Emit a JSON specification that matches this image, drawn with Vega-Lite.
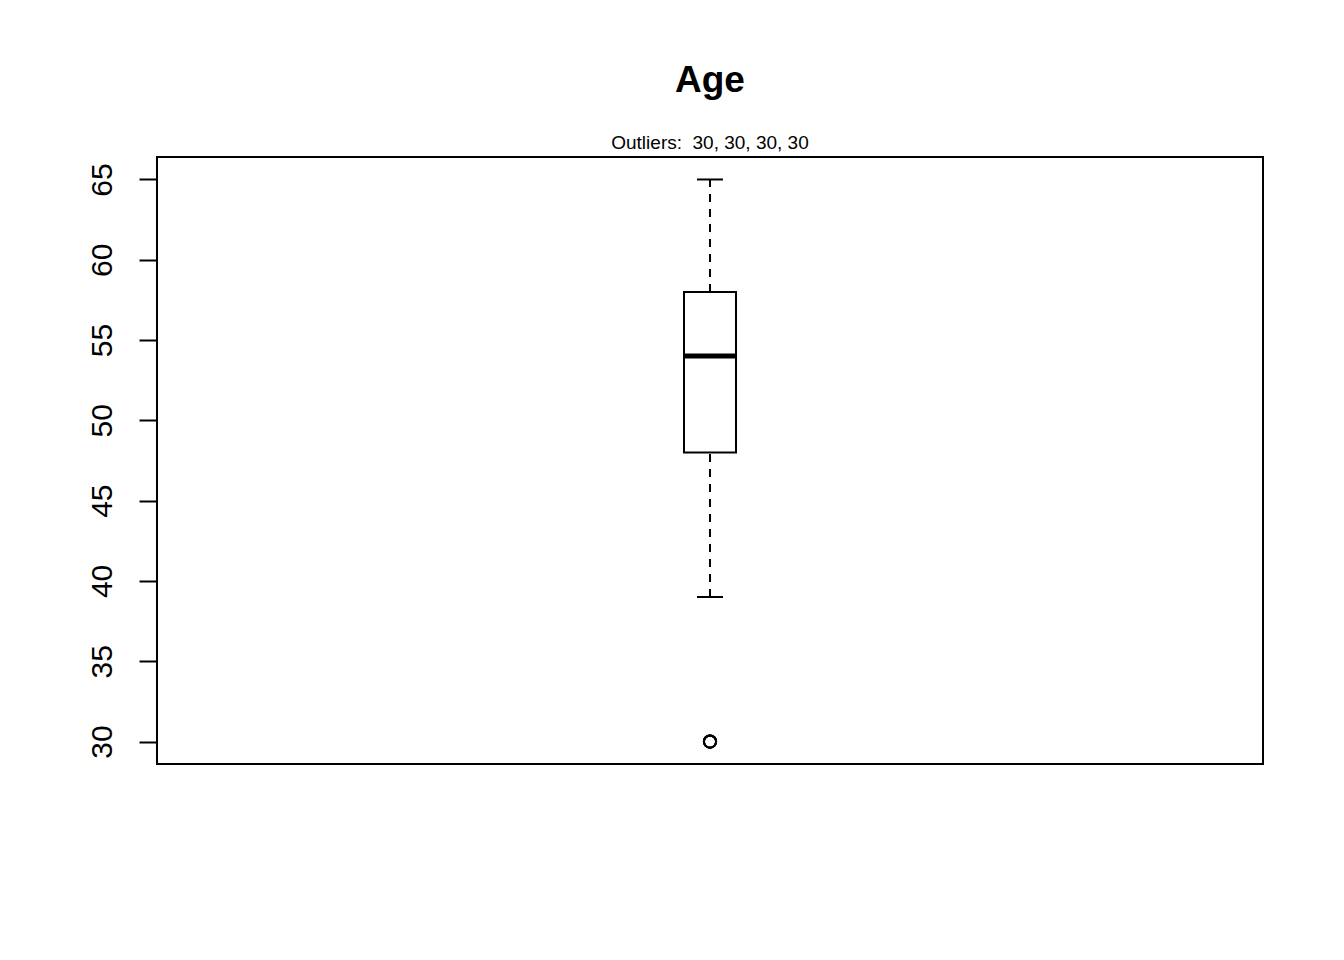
{
  "$schema": "https://vega.github.io/schema/vega-lite/v6.json",
  "width": 1106,
  "height": 607,
  "autosize": {"type": "none"},
  "padding": {"left": 157, "top": 157, "right": 81, "bottom": 196},
  "background": "white",
  "config": {
    "font": "Liberation Sans",
    "view": {"stroke": "black", "strokeWidth": 2, "fill": "white"}
  },
  "title": {
    "text": "Age",
    "subtitle": "Outliers:\u00a0 30, 30, 30, 30",
    "fontSize": 37,
    "fontWeight": "bold",
    "color": "black",
    "subtitleFontSize": 19,
    "subtitleColor": "black",
    "subtitlePadding": 34,
    "anchor": "middle",
    "offset": 3,
    "font": "Liberation Sans",
    "subtitleFont": "Liberation Sans"
  },
  "datasets": {
    "stats": [
      {"group": "Age", "lower": 39, "q1": 48, "median": 54, "q3": 58, "upper": 65}
    ],
    "outliers": [
      {"group": "Age", "value": 30},
      {"group": "Age", "value": 30},
      {"group": "Age", "value": 30},
      {"group": "Age", "value": 30}
    ]
  },
  "encoding": {
    "x": {
      "field": "group",
      "type": "nominal",
      "scale": {"type": "point", "padding": 0.5},
      "axis": null
    }
  },
  "layer": [
    {
      "data": {"name": "stats"},
      "mark": {"type": "rule", "color": "black", "strokeWidth": 2, "strokeDash": [8, 7]},
      "encoding": {
        "y": {
          "field": "lower",
          "type": "quantitative",
          "scale": {"domain": [28.6, 66.4], "nice": false, "zero": false},
          "axis": {
            "title": null,
            "values": [30, 35, 40, 45, 50, 55, 60, 65],
            "grid": false,
            "domain": false,
            "labelAngle": -90,
            "labelAlign": "center",
            "labelBaseline": "alphabetic",
            "labelFontSize": 30,
            "labelColor": "black",
            "labelFont": "Liberation Sans",
            "labelPadding": 28,
            "tickColor": "black",
            "tickWidth": 2,
            "tickSize": 18
          }
        },
        "y2": {"field": "q1"}
      }
    },
    {
      "data": {"name": "stats"},
      "mark": {"type": "rule", "color": "black", "strokeWidth": 2, "strokeDash": [8, 7]},
      "encoding": {
        "y": {"field": "q3", "type": "quantitative"},
        "y2": {"field": "upper"}
      }
    },
    {
      "data": {"name": "stats"},
      "mark": {"type": "tick", "color": "black", "size": 26, "thickness": 2, "opacity": 1},
      "encoding": {"y": {"field": "lower", "type": "quantitative"}}
    },
    {
      "data": {"name": "stats"},
      "mark": {"type": "tick", "color": "black", "size": 26, "thickness": 2, "opacity": 1},
      "encoding": {"y": {"field": "upper", "type": "quantitative"}}
    },
    {
      "data": {"name": "stats"},
      "mark": {"type": "bar", "fill": "white", "stroke": "black", "strokeWidth": 2, "size": 52},
      "encoding": {
        "y": {"field": "q1", "type": "quantitative"},
        "y2": {"field": "q3"}
      }
    },
    {
      "data": {"name": "stats"},
      "mark": {"type": "tick", "color": "black", "size": 52, "thickness": 5, "opacity": 1},
      "encoding": {"y": {"field": "median", "type": "quantitative"}}
    },
    {
      "data": {"name": "outliers"},
      "mark": {"type": "point", "shape": "circle", "filled": false, "stroke": "black", "strokeWidth": 2, "size": 150, "opacity": 1},
      "encoding": {"y": {"field": "value", "type": "quantitative"}}
    }
  ]
}
